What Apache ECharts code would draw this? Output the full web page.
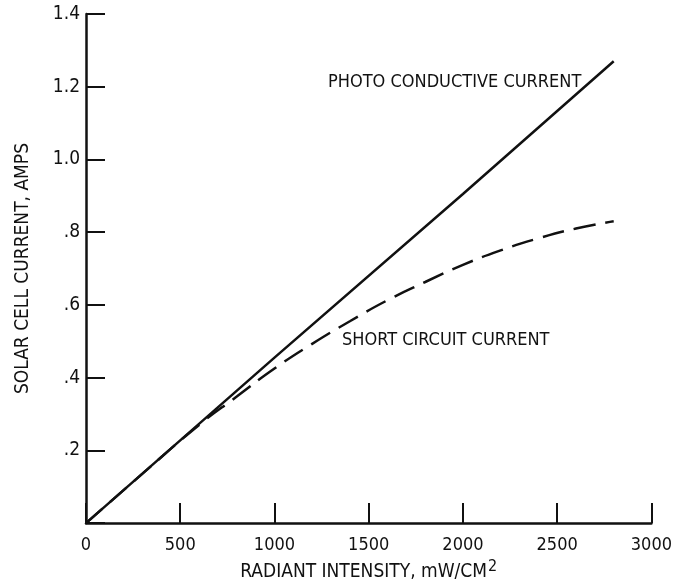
<!DOCTYPE html>
<html>
<head>
<meta charset="utf-8">
<script src="https://cdn.jsdelivr.net/npm/echarts@6/dist/echarts.min.js"></script>
<style>
  html, body { margin: 0; padding: 0; background: #fff; }
  #chart { width: 675px; height: 587px; }
</style>
</head>
<body>
<div id="chart"></div>
<script>
var photoX = [0, 1000, 2000, 2800];
var photoY = [0, 0.455, 0.905, 1.27];

var shortX = [0, 300, 600, 800, 1000, 1200, 1400, 1600, 1800, 2000, 2200, 2400, 2600, 2800];
var shortY = [0, 0.136, 0.27, 0.348, 0.425, 0.493, 0.555, 0.613, 0.663, 0.71, 0.75, 0.783, 0.81, 0.83];

var xTicks = [0, 500, 1000, 1500, 2000, 2500, 3000];
var yTickLabels = ['', '.2', '.4', '.6', '.8', '1.0', '1.2', '1.4'];

var FONT = "'Liberation Sans Narrow', 'DejaVu Sans Condensed', 'Liberation Sans', sans-serif";

var pairs = function(xs, ys) {
    return xs.map(function(x, i) { return [x, ys[i]]; });
};

var myChart = echarts.init(document.getElementById('chart'), null, { renderer: 'canvas' });

var option = {
    animation: false,
    backgroundColor: '#fff',
    grid: { left: 86, right: 19, top: 14, bottom: 57 },
    xAxis: {
        type: 'value',
        min: 0,
        max: 3000,
        interval: 500,
        name: '{a|RADIANT INTENSITY, mW/CM}{s|2}',
        nameLocation: 'middle',
        nameGap: 33,
        nameTextStyle: {
            rich: {
                a: { fontFamily: FONT, fontSize: 19, color: '#111' },
                s: { fontFamily: FONT, fontSize: 16, color: '#111', padding: [0, 0, 11, 1] }
            }
        },
        axisLine: { lineStyle: { color: '#111', width: 2.5 } },
        axisTick: { inside: true, length: 20, lineStyle: { color: '#111', width: 2 } },
        splitLine: { show: false },
        axisLabel: {
            fontFamily: FONT, fontSize: 18, color: '#111', margin: 13,
            formatter: function(v) { return xTicks.indexOf(v) >= 0 ? String(v) : ''; }
        }
    },
    yAxis: {
        type: 'value',
        min: 0,
        max: 1.4,
        interval: 0.2,
        name: 'SOLAR CELL CURRENT, AMPS',
        nameLocation: 'middle',
        nameGap: 53,
        nameTextStyle: { fontFamily: FONT, fontSize: 19, color: '#111' },
        axisLine: { show: true, lineStyle: { color: '#111', width: 2.5 } },
        axisTick: { show: true, inside: true, length: 19, lineStyle: { color: '#111', width: 2 } },
        splitLine: { show: false },
        axisLabel: {
            fontFamily: FONT, fontSize: 19, color: '#111', margin: 6,
            formatter: function(v) { return yTickLabels[Math.round(v / 0.2)]; }
        }
    },
    graphic: [
        { type: 'text', left: 328, top: 73,
          style: { text: 'PHOTO CONDUCTIVE CURRENT', font: '18px ' + FONT, fill: '#111' } },
        { type: 'text', left: 342, top: 331,
          style: { text: 'SHORT CIRCUIT CURRENT', font: '18px ' + FONT, fill: '#111' } }
    ],
    series: [{
        name: 'Photo conductive current',
        type: 'line',
        data: pairs(photoX, photoY),
        showSymbol: false,
        lineStyle: { color: '#111', width: 2.5 }
    }, {
        name: 'Short circuit current',
        type: 'line',
        smooth: true,
        data: pairs(shortX, shortY),
        showSymbol: false,
        lineStyle: { color: '#111', width: 2.5, type: [22, 10] }
    }]
};

myChart.setOption(option);
window.addEventListener('resize', myChart.resize);
</script>
</body>
</html>
